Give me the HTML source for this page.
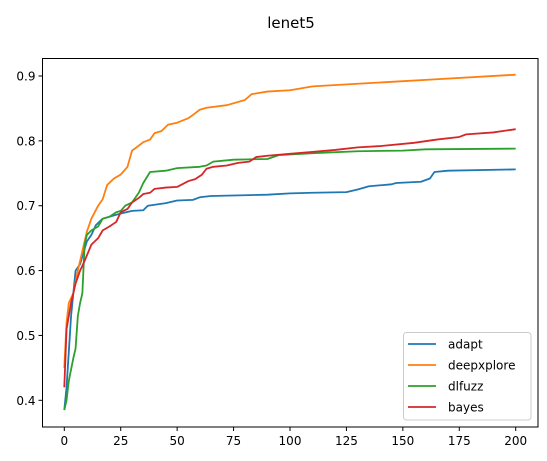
<!DOCTYPE html>
<html><head><meta charset="utf-8"><style>
html,body{margin:0;padding:0;background:#fff;}
svg{display:block;font-family:"DejaVu Sans","Liberation Sans",sans-serif;}
</style></head><body>
<svg id="chart" width="547" height="461" viewBox="0 0 547 461" xmlns="http://www.w3.org/2000/svg">
<text x="291" y="28" text-anchor="middle" font-size="15" fill="#000">lenet5</text>
<g id="plot"></g>
</svg>
<script>
const xTicks=[0,25,50,75,100,125,150,175,200];
const yTicks=[0.4,0.5,0.6,0.7,0.8,0.9];
const yTickLabels=["0.4","0.5","0.6","0.7","0.8","0.9"];
const seriesNames=["adapt","deepxplore","dlfuzz","bayes"];
const adaptX=[0,1,3,5,7,10,12,14,17,25,30,35,37,45,50,57,60,65,90,100,110,125,130,135,145,147,158,162,164,170,200];
const adaptY=[0.385,0.42,0.53,0.60,0.61,0.645,0.655,0.67,0.68,0.688,0.692,0.693,0.70,0.704,0.708,0.709,0.713,0.715,0.717,0.719,0.72,0.721,0.725,0.73,0.733,0.735,0.737,0.742,0.752,0.754,0.756];
const deepX=[0,1,2,4,6,8,10,12,15,17,19,22,25,28,30,32,35,38,40,43,46,50,55,57,60,63,72,80,83,90,100,110,130,150,165,200];
const deepY=[0.45,0.52,0.55,0.565,0.60,0.63,0.66,0.68,0.70,0.71,0.732,0.742,0.748,0.76,0.785,0.79,0.798,0.802,0.812,0.815,0.825,0.828,0.835,0.84,0.848,0.851,0.855,0.863,0.872,0.876,0.878,0.884,0.888,0.892,0.895,0.902];
const dlfX=[0,1,2,4,5,6,7,8,9,10,12,15,17,20,23,25,27,30,33,35,38,45,50,60,63,66,75,90,95,110,130,150,160,200];
const dlfY=[0.385,0.40,0.43,0.465,0.48,0.53,0.55,0.565,0.64,0.655,0.662,0.668,0.68,0.683,0.69,0.692,0.70,0.705,0.72,0.735,0.752,0.754,0.758,0.76,0.762,0.768,0.771,0.772,0.778,0.781,0.784,0.785,0.787,0.788];
const bayesX=[0,1,3,5,7,9,12,15,17,20,23,25,28,30,33,35,38,40,45,50,55,58,61,63,66,72,77,82,85,90,100,110,120,130,140,155,165,175,178,190,200];
const bayesY=[0.42,0.51,0.55,0.58,0.60,0.615,0.64,0.65,0.662,0.668,0.675,0.69,0.695,0.705,0.712,0.718,0.72,0.726,0.728,0.729,0.738,0.741,0.748,0.757,0.76,0.762,0.766,0.768,0.775,0.777,0.78,0.783,0.786,0.79,0.792,0.797,0.802,0.806,0.81,0.813,0.818];
const colors=["#1f77b4","#ff7f0e","#2ca02c","#d62728"];

const NS="http://www.w3.org/2000/svg";
const L=42.5,R=538,T=58.5,B=427;
function sx(v){return 64.3+(v-0)*(515.7-64.3)/200;}
function sy(v){return 400.3-(v-0.4)*(400.3-76)/0.5;}
const g=document.getElementById('plot');
function mk(tag,attrs){const e=document.createElementNS(NS,tag);for(const k in attrs)e.setAttribute(k,attrs[k]);g.appendChild(e);return e;}

const allX=[adaptX,deepX,dlfX,bayesX], allY=[adaptY,deepY,dlfY,bayesY];
for(let s=0;s<4;s++){
  const d=allX[s].map((x,i)=>(i?'L':'M')+sx(x).toFixed(2)+' '+sy(allY[s][i]).toFixed(2)).join(' ');
  const p=mk('path',{d:d,fill:'none',stroke:colors[s],'stroke-width':1.8,'stroke-linejoin':'round'});
  
  
}
const frame=mk('rect',{x:L,y:T,width:R-L,height:B-T,fill:'none',stroke:'#000','stroke-width':1});


xTicks.forEach(v=>{
  const t=mk('line',{x1:sx(v),x2:sx(v),y1:B,y2:B+4,stroke:'#000'});
  
  
  const l=mk('text',{x:sx(v),y:B+18,'text-anchor':'middle','font-size':12,fill:'#000'});
  l.textContent=String(v);
  
  
});
yTicks.forEach((v,i)=>{
  const t=mk('line',{x1:L-4,x2:L,y1:sy(v),y2:sy(v),stroke:'#000'});
  
  
  const l=mk('text',{x:L-7,y:sy(v)+4.5,'text-anchor':'end','font-size':12,fill:'#000'});
  l.textContent=yTickLabels[i];
  
  
});
const lg=mk('rect',{x:403.5,y:332.5,width:127.5,height:87.5,rx:3,fill:'#fff','fill-opacity':0.8,stroke:'#ccc'});


seriesNames.forEach((n,i)=>{
  const y=344+i*21;
  const ln=mk('line',{x1:408,x2:436,y1:y,y2:y,stroke:colors[i],'stroke-width':1.8});
  
  
  const tx=mk('text',{x:448,y:y+4.5,'font-size':12,fill:'#000'});
  tx.textContent=n;
  
  
});
</script>
</body></html>
